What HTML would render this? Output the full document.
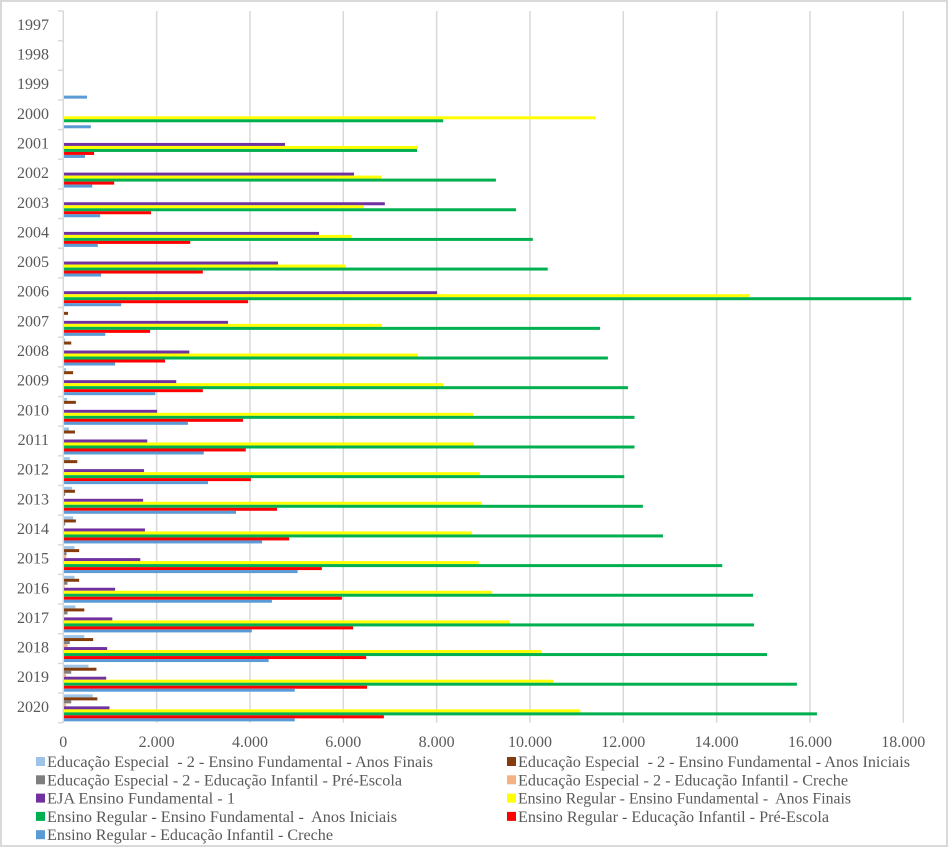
<!DOCTYPE html>
<html><head><meta charset="utf-8"><style>
html,body{margin:0;padding:0;background:#fff}
svg{display:block}
text{font-family:"Liberation Serif",serif;fill:#595959;white-space:pre}
</style></head><body>
<svg id="chart" width="948" height="847" viewBox="0 0 948 847"></svg>
<script>
const years=['1997','1998','1999','2000','2001','2002','2003','2004','2005','2006','2007','2008','2009','2010','2011','2012','2013','2014','2015','2016','2017','2018','2019','2020'];
const seriesNames=['Educação Especial  - 2 - Ensino Fundamental - Anos Finais','Educação Especial  - 2 - Ensino Fundamental - Anos Iniciais','Educação Especial - 2 - Educação Infantil - Pré-Escola','Educação Especial - 2 - Educação Infantil - Creche','EJA Ensino Fundamental - 1','Ensino Regular - Ensino Fundamental -  Anos Finais','Ensino Regular - Ensino Fundamental -  Anos Iniciais','Ensino Regular - Educação Infantil - Pré-Escola','Ensino Regular - Educação Infantil - Creche'];
const seriesColors=['#9dc3e6','#843c0c','#7f7f7f','#f4b183','#7030a0','#ffff00','#00b050','#ff0000','#5b9bd5'];
const eeAnosFinais=[0,0,0,0,0,0,0,0,0,0,0,40,60,80,120,140,190,210,240,240,260,450,540,630];
const eeAnosIniciais=[0,0,0,0,0,0,0,0,0,0,100,170,210,270,250,300,250,270,340,340,450,640,710,730];
const eePreEscola=[0,0,0,0,0,0,0,0,0,0,0,0,0,0,0,0,40,40,70,90,90,140,170,170];
const eeCreche=[0,0,0,0,0,0,0,0,0,0,0,0,0,0,0,0,0,0,60,30,20,90,60,60];
const eja=[0,0,0,0,4750,6230,6890,5480,4600,8010,3530,2700,2420,2010,1800,1730,1710,1750,1650,1110,1050,940,920,990];
const erAnosFinais=[0,0,0,11400,7600,6810,6440,6180,6050,14710,6830,7600,8140,8780,8800,8930,8970,8760,8900,9190,9570,10240,10500,11080];
const erAnosIniciais=[0,0,0,8140,7580,9270,9700,10060,10380,18170,11500,11670,12100,12240,12240,12020,12420,12850,14120,14780,14800,15080,15720,16150];
const erPreEscola=[0,0,0,0,660,1090,1880,2720,2990,3960,1860,2180,2990,3850,3910,4020,4580,4840,5540,5970,6210,6490,6510,6870];
const erCreche=[0,0,508,590,465,620,790,740,810,1240,900,1110,1970,2670,3010,3100,3700,4260,5020,4470,4040,4400,4960,4960];
const xTicks=[0,2000,4000,6000,8000,10000,12000,14000,16000,18000];
const xTickLabels=['0','2.000','4.000','6.000','8.000','10.000','12.000','14.000','16.000','18.000'];
const allSeries=[eeAnosFinais,eeAnosIniciais,eePreEscola,eeCreche,eja,erAnosFinais,erAnosIniciais,erPreEscola,erCreche];
const legendWidths=[386,392,355,330,188,333,350,311,286];

const NS='http://www.w3.org/2000/svg';
const svg=document.getElementById('chart');
const X0=63.3,X1=903.3,XMAX=18000,Y0=11,Y1=722.7;
const rowH=(Y1-Y0)/years.length;
const xs=v=>X0+(v/XMAX)*(X1-X0);
const yRow=i=>Y0+i*rowH;
function mk(tag,attrs,parent){const e=document.createElementNS(NS,tag);for(const k in attrs)e.setAttribute(k,attrs[k]);(parent||svg).appendChild(e);return e;}

const border=mk('rect',{x:1,y:1,width:946,height:845,fill:'#fff',stroke:'#d9d9d9','stroke-width':2});



const grid=mk('g',{});


xTicks.forEach((t,i)=>{
  if(i>0){const l=mk('line',{x1:xs(t),x2:xs(t),y1:Y0,y2:Y1,stroke:'#d9d9d9','stroke-width':1.5},grid);
  
  }
  const tx=mk('text',{x:xs(t),y:747,'text-anchor':'middle','font-size':16});
  tx.textContent=xTickLabels[i];
  
  
});

const barGroup=mk('g',{});


const barH=rowH*0.91/9;
const pad=(rowH-barH*9)/2;
years.forEach((yr,i)=>{
  allSeries.forEach((s,k)=>{
    const v=s[i];
    if(v<=0)return;
    const r=mk('rect',{x:X0,y:yRow(i)+pad+k*barH,width:xs(v)-X0,height:barH,fill:seriesColors[k]},barGroup);
    
    
  });
  const t=mk('text',{x:49,y:yRow(i)+rowH/2+4,'text-anchor':'end','font-size':16});
  t.textContent=yr;
  
  
});

const axis=mk('line',{x1:X0,x2:X0,y1:Y0,y2:Y1,stroke:'#d9d9d9','stroke-width':1.5});


for(let i=0;i<=years.length;i++){
  const tk=mk('line',{x1:58,x2:X0,y1:yRow(i),y2:yRow(i),stroke:'#d9d9d9','stroke-width':1.5});
  
  
}

const legend=mk('g',{});


seriesNames.forEach((n,k)=>{
  const col=k%2,row=Math.floor(k/2);
  const lx=col?507:36,ly=762+row*18.3;
  const g=mk('g',{},legend);
  
  
  mk('rect',{x:lx,y:ly-5,width:9,height:9,fill:seriesColors[k]},g);
  const t=mk('text',{x:lx+11,y:ly+5,'font-size':16,fill:'#404040',textLength:legendWidths[k],lengthAdjust:'spacingAndGlyphs'},g);
  t.textContent=n;
});
</script>
</body></html>
